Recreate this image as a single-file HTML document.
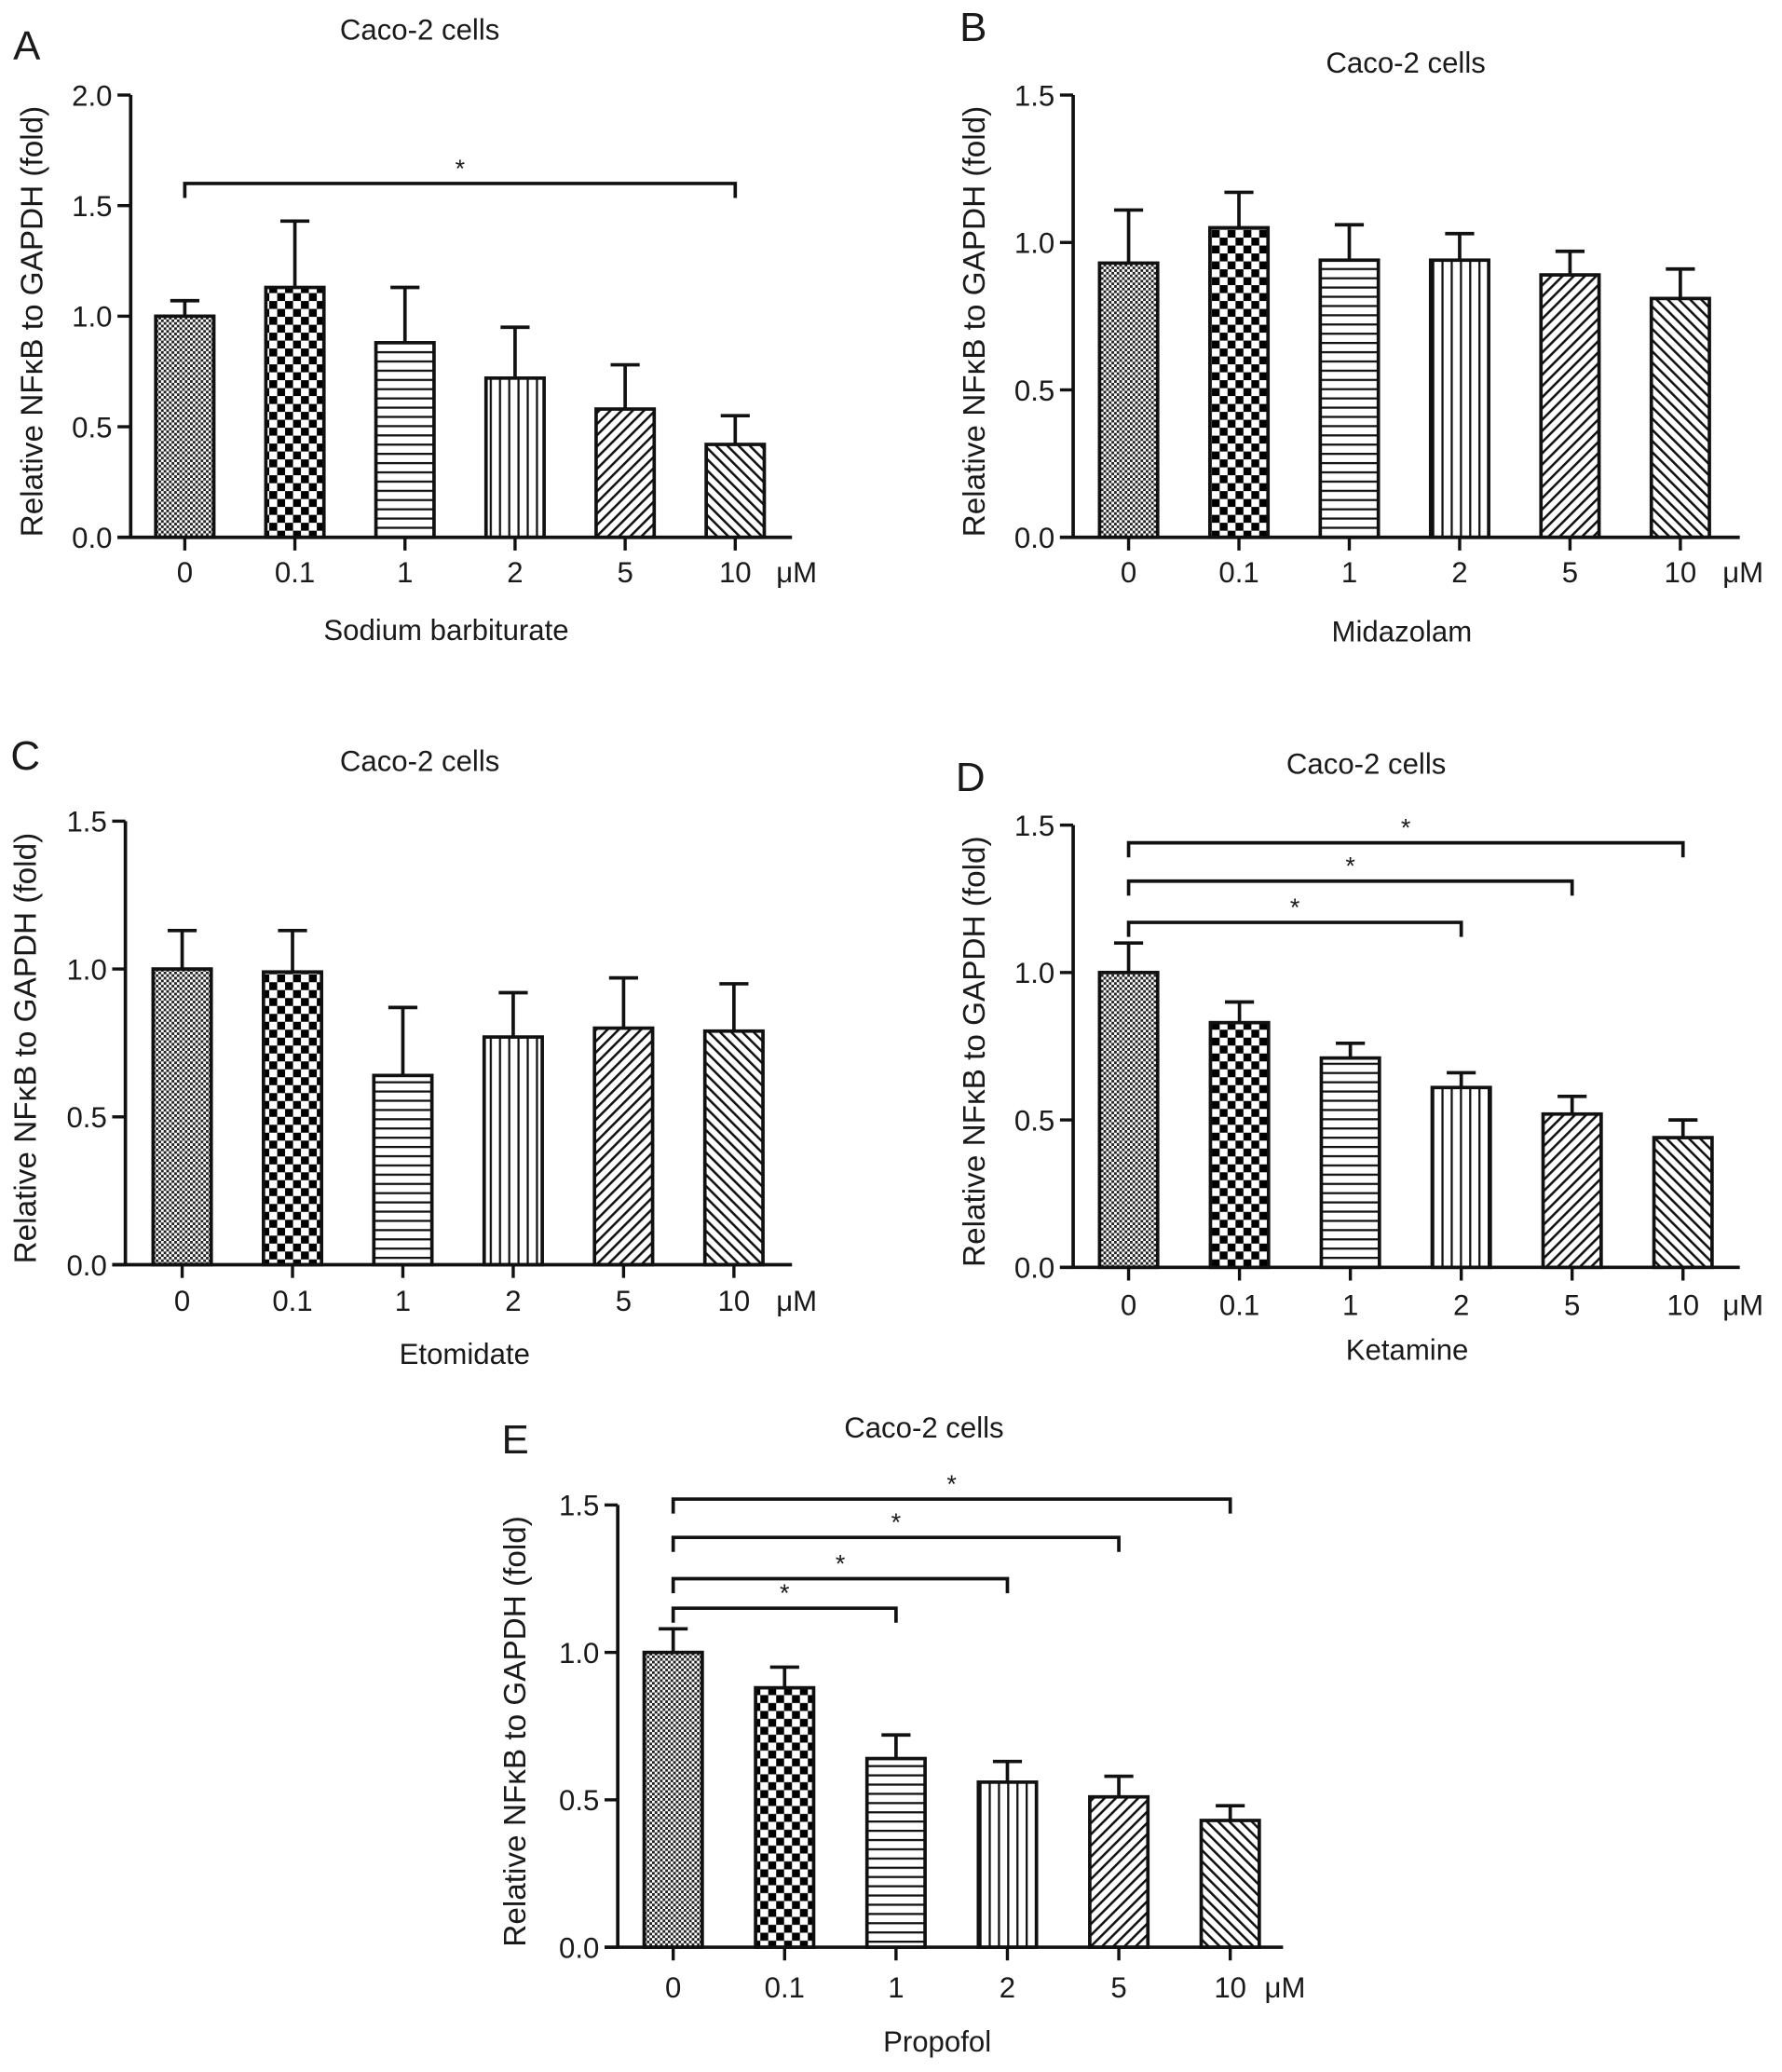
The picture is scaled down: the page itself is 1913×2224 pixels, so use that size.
<!DOCTYPE html>
<html><head><meta charset="utf-8"><style>
html,body{margin:0;padding:0;background:#fff;}
svg{display:block;}
text{font-family:"Liberation Sans",Arial,sans-serif;fill:#1a1a1a;}
</style></head><body>
<svg id="fig" width="1913" height="2224" viewBox="0 0 1350 1569.5" preserveAspectRatio="none" xmlns="http://www.w3.org/2000/svg">
<defs>
<pattern id="p0" width="4" height="4" patternUnits="userSpaceOnUse"><rect width="4" height="4" fill="#fff"/><rect width="2" height="2" fill="#222"/><rect x="2" y="2" width="2" height="2" fill="#222"/></pattern>
<pattern id="p1" width="12" height="12" patternUnits="userSpaceOnUse"><rect width="12" height="12" fill="#fff"/><rect width="6" height="6" fill="#000"/><rect x="6" y="6" width="6" height="6" fill="#000"/></pattern>
<pattern id="p2" width="8" height="7" patternUnits="userSpaceOnUse"><rect width="8" height="7" fill="#fff"/><rect y="0" width="8" height="1.6" fill="#111"/></pattern>
<pattern id="p3" width="7" height="8" patternUnits="userSpaceOnUse"><rect width="7" height="8" fill="#fff"/><rect x="0" width="1.6" height="8" fill="#111"/></pattern>
<pattern id="p4" width="6" height="6" patternUnits="userSpaceOnUse" patternTransform="rotate(45)"><rect width="6" height="6" fill="#fff"/><rect width="1.8" height="6" fill="#111"/></pattern>
<pattern id="p5" width="6" height="6" patternUnits="userSpaceOnUse" patternTransform="rotate(-45)"><rect width="6" height="6" fill="#fff"/><rect width="1.8" height="6" fill="#111"/></pattern>
</defs>
</svg>
<script>
const categories = ["0","0.1","1","2","5","10"];
const valuesA = [1.0, 1.13, 0.88, 0.72, 0.58, 0.42];
const errTopA = [1.07, 1.43, 1.13, 0.95, 0.78, 0.55];
const valuesB = [0.93, 1.05, 0.94, 0.94, 0.89, 0.81];
const errTopB = [1.11, 1.17, 1.06, 1.03, 0.97, 0.91];
const valuesC = [1.0, 0.99, 0.64, 0.77, 0.80, 0.79];
const errTopC = [1.13, 1.13, 0.87, 0.92, 0.97, 0.95];
const valuesD = [1.0, 0.83, 0.71, 0.61, 0.52, 0.44];
const errTopD = [1.10, 0.90, 0.76, 0.66, 0.58, 0.50];
const valuesE = [1.0, 0.88, 0.64, 0.56, 0.51, 0.43];
const errTopE = [1.08, 0.95, 0.72, 0.63, 0.58, 0.48];
const ticksA = [0, 0.5, 1.0, 1.5, 2.0];
const ticks15 = [0, 0.5, 1.0, 1.5];
const bracketsA = [[0,5,1.6]];
const bracketsD = [[0,5,1.44],[0,4,1.31],[0,3,1.17]];
const bracketsE = [[0,5,1.52],[0,4,1.39],[0,3,1.25],[0,2,1.15]];

const NS="http://www.w3.org/2000/svg";
const svg=document.getElementById('fig');
function mk(tag,attrs,parent,txt){const e=document.createElementNS(NS,tag);for(const k in attrs)e.setAttribute(k,attrs[k]);if(txt!==undefined)e.textContent=txt;(parent||svg).appendChild(e);return e;}

const panels=[
 {id:'a',letter:'A',lx:10,ly:45,ax:99,top:72,bot:407,ymax:2.0,ticks:ticksA,x0:140,dx:83.4,xend:600,vals:valuesA,err:errTopA,br:bracketsA,title:[318,30],xl:'Sodium barbiturate',xlp:[338,485],ylx:24,tly:441,um:588},
 {id:'b',letter:'B',lx:727,ly:31,ax:813,top:72,bot:407,ymax:1.5,ticks:ticks15,x0:855,dx:83.6,xend:1318,vals:valuesB,err:errTopB,br:[],title:[1065,55],xl:'Midazolam',xlp:[1062,486],ylx:738,tly:441,um:1305},
 {id:'c',letter:'C',lx:8,ly:583,ax:95,top:622,bot:958,ymax:1.5,ticks:ticks15,x0:138,dx:83.6,xend:600,vals:valuesC,err:errTopC,br:[],title:[318,584],xl:'Etomidate',xlp:[352,1033],ylx:19,tly:993,um:588},
 {id:'d',letter:'D',lx:724,ly:599,ax:813,top:625,bot:960,ymax:1.5,ticks:ticks15,x0:855,dx:84,xend:1318,vals:valuesD,err:errTopD,br:bracketsD,title:[1035,586],xl:'Ketamine',xlp:[1066,1030],ylx:738,tly:996,um:1305},
 {id:'e',letter:'E',lx:380,ly:1101,ax:468,top:1140,bot:1475,ymax:1.5,ticks:ticks15,x0:510,dx:84.4,xend:972,vals:valuesE,err:errTopE,br:bracketsE,title:[700,1089],xl:'Propofol',xlp:[710,1554],ylx:390,tly:1513,um:958}
];

panels.forEach(p=>{
 const g=mk('g',{});
 
 
 const y=v=>p.bot-(v/p.ymax)*(p.bot-p.top);
 const x=i=>p.x0+i*p.dx;
 const bw=44;
 let t=mk('text',{x:p.lx,y:p.ly,'font-size':31},g,p.letter);
 
 
 t=mk('text',{x:p.title[0],y:p.title[1],'font-size':22,'text-anchor':'middle'},g,'Caco-2 cells');
 
 
 p.vals.forEach((v,i)=>{
  const cx=x(i);
  const r=mk('rect',{x:cx-bw/2,y:y(v),width:bw,height:p.bot-y(v),fill:'url(#p'+i+')',stroke:'#111','stroke-width':2.6},g);
  
  
  const e=mk('path',{d:`M${cx} ${y(v)}V${y(p.err[i])}M${cx-11} ${y(p.err[i])}H${cx+11}`,stroke:'#111','stroke-width':2.6,fill:'none'},g);
  
  
  mk('line',{x1:cx,x2:cx,y1:p.bot,y2:p.bot+10,stroke:'#111','stroke-width':2.4},g);
  const tl=mk('text',{x:cx,y:p.tly,'font-size':22,'text-anchor':'middle'},g,categories[i]);
  
  
 });
 const axy=mk('line',{x1:p.ax,x2:p.ax,y1:p.top,y2:p.bot,stroke:'#111','stroke-width':2.6},g);
 
 
 const axx=mk('line',{x1:p.ax-10,x2:p.xend,y1:p.bot,y2:p.bot,stroke:'#111','stroke-width':2.6},g);
 
 
 p.ticks.forEach(v=>{
  mk('line',{x1:p.ax-10,x2:p.ax,y1:y(v),y2:y(v),stroke:'#111','stroke-width':2.4},g);
  const tl=mk('text',{x:p.ax-14,y:y(v)+8,'font-size':22,'text-anchor':'end'},g,v.toFixed(1));
  
  
 });
 t=mk('text',{x:p.um,y:p.tly,'font-size':22},g,'μM');
 
 
 t=mk('text',{x:p.xlp[0],y:p.xlp[1],'font-size':22,'text-anchor':'middle'},g,p.xl);
 
 
 const ym=(p.top+p.bot)/2+4;
 t=mk('text',{x:p.ylx,y:ym,'font-size':23.5,'text-anchor':'middle',transform:`rotate(-90 ${p.ylx} ${ym})`,dy:8},g,'Relative NFκB to GAPDH (fold)');
 
 
 p.br.forEach(b=>{
  const x1=x(b[0]),x2=x(b[1]),yy=y(b[2]);
  const br=mk('path',{d:`M${x1} ${yy+11}V${yy}H${x2}V${yy+11}`,stroke:'#111','stroke-width':2.6,fill:'none'},g);
  
  
  const s=mk('text',{x:(x1+x2)/2,y:yy-5,'font-size':19,'text-anchor':'middle'},g,'*');
  
  
 });
});
</script>
</body></html>
